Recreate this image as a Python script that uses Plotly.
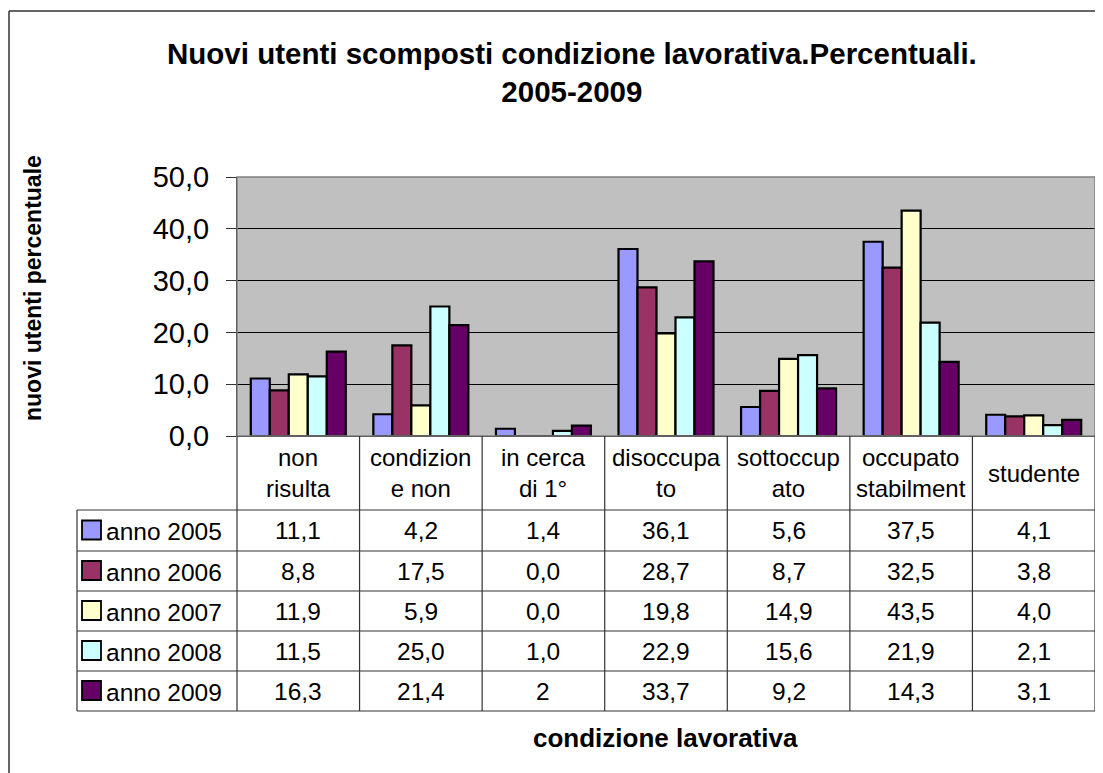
"""
Nuovi utenti scomposti per condizione lavorativa (2005-2009).

Excel-style clustered column chart with a data table underneath.
"""

import plotly.graph_objects as go

# ---------------------------------------------------------------------------
# Data
# ---------------------------------------------------------------------------
categories = [
    "non<br>risulta", "condizion<br>e non", "in cerca<br>di 1°", "disoccupa<br>to",
    "sottoccup<br>ato", "occupato<br>stabilment", "studente",
]
years = ["anno 2005", "anno 2006", "anno 2007", "anno 2008", "anno 2009"]

anno_2005 = [11.1, 4.2, 1.4, 36.1, 5.6, 37.5, 4.1]
anno_2006 = [8.8, 17.5, 0.0, 28.7, 8.7, 32.5, 3.8]
anno_2007 = [11.9, 5.9, 0.0, 19.8, 14.9, 43.5, 4.0]
anno_2008 = [11.5, 25.0, 1.0, 22.9, 15.6, 21.9, 2.1]
anno_2009 = [16.3, 21.4, 2, 33.7, 9.2, 14.3, 3.1]

y_ticks = [0, 10, 20, 30, 40, 50]

colors = ["#9999FF", "#993366", "#FFFFCC", "#CCFFFF", "#660066"]
series = [anno_2005, anno_2006, anno_2007, anno_2008, anno_2009]

# ---------------------------------------------------------------------------
# Geometry (page pixels; the page body adds an 8px offset)
# ---------------------------------------------------------------------------
OFF = 8
W, H = 1103 - OFF, 773 - OFF
PLOT_L, PLOT_R = 237, 1095
PLOT_T, PLOT_B = 177, 436
TABLE_L = 77
ROW_LINES = [510, 551, 591, 631, 671, 711]
FONT = "Liberation Sans, Arial, sans-serif"


def px(x):
    return (x - PLOT_L) / (PLOT_R - PLOT_L)


def py(y):
    return (PLOT_B - y) / (PLOT_B - PLOT_T)


def fmt(v):
    if isinstance(v, int):
        return str(v)
    return f"{v:.1f}".replace(".", ",")


fig = go.Figure()
for name, vals, col in zip(years, series, colors):
    fig.add_trace(go.Bar(
        x=list(range(len(categories))), y=vals, name=name,
        marker=dict(color=col, line=dict(color="black", width=2.2)),
        showlegend=False,
    ))

shapes = []
annotations = []

line = dict(color="#333333", width=1.2)
# plot area frame
shapes.append(dict(type="rect", xref="paper", yref="paper", x0=0, x1=1, y0=0, y1=1,
                   line=dict(color="#808080", width=1.5), layer="above"))
# outer chart border
shapes.append(dict(type="line", xref="paper", yref="paper", x0=px(9), x1=px(1110),
                   y0=py(11), y1=py(11), line=dict(color="#333333", width=1.5)))
shapes.append(dict(type="line", xref="paper", yref="paper", x0=px(9), x1=px(9),
                   y0=py(11), y1=py(790), line=dict(color="#333333", width=1.5)))

# table: horizontal lines
for yl in ROW_LINES:
    shapes.append(dict(type="line", xref="paper", yref="paper", x0=px(TABLE_L), x1=1,
                       y0=py(yl), y1=py(yl), line=line))
# table: vertical lines
col_w = (PLOT_R - PLOT_L) / len(categories)
for i in range(len(categories) + 1):
    xl = PLOT_L + i * col_w
    shapes.append(dict(type="line", xref="paper", yref="paper", x0=px(xl), x1=px(xl),
                       y0=0, y1=py(ROW_LINES[-1]), line=line))
shapes.append(dict(type="line", xref="paper", yref="paper", x0=px(TABLE_L), x1=px(TABLE_L),
                   y0=py(ROW_LINES[0]), y1=py(ROW_LINES[-1]), line=line))

# category labels
for i, cat in enumerate(categories):
    annotations.append(dict(xref="x", yref="paper", x=i, y=py((PLOT_B + ROW_LINES[0]) / 2),
                            text=cat, showarrow=False, font=dict(size=24, color="black", family=FONT),
                            xanchor="center", yanchor="middle"))

# legend keys + table values
for r, (name, vals, col) in enumerate(zip(years, series, colors)):
    yc = (ROW_LINES[r] + ROW_LINES[r + 1]) / 2
    shapes.append(dict(type="rect", xref="paper", yref="paper", x0=px(82), x1=px(101),
                       y0=py(yc + 9), y1=py(yc - 10), fillcolor=col,
                       line=dict(color="black", width=1.8)))
    annotations.append(dict(xref="paper", yref="paper", x=px(104), y=py(yc + 1), text=name,
                            showarrow=False, xanchor="left", yanchor="middle",
                            font=dict(size=24.5, color="black", family=FONT)))
    for i, v in enumerate(vals):
        annotations.append(dict(xref="x", yref="paper", x=i, y=py(yc), text=fmt(v),
                                showarrow=False, xanchor="center", yanchor="middle",
                                font=dict(size=24.5, color="black", family=FONT)))

# titles
annotations.append(dict(xref="paper", yref="paper", x=px(572), y=py(73),
                        text="<b>Nuovi utenti scomposti condizione lavorativa.Percentuali.<br>2005-2009</b>",
                        showarrow=False, xanchor="center", yanchor="middle",
                        font=dict(size=29.5, color="black", family=FONT)))
annotations.append(dict(xref="paper", yref="paper", x=px(33), y=py(288),
                        text="<b>nuovi utenti percentuale</b>", textangle=-90,
                        showarrow=False, xanchor="center", yanchor="middle",
                        font=dict(size=23, color="black", family=FONT)))
annotations.append(dict(xref="paper", yref="paper", x=px(665), y=py(738),
                        text="<b>condizione lavorativa</b>",
                        showarrow=False, xanchor="center", yanchor="middle",
                        font=dict(size=26, color="black", family=FONT)))

fig.update_layout(
    width=W, height=H,
    margin=dict(l=PLOT_L - OFF, r=1103 - PLOT_R, t=PLOT_T - OFF, b=773 - PLOT_B, pad=0),
    paper_bgcolor="white", plot_bgcolor="#C0C0C0",
    barmode="group", bargap=0.225, bargroupgap=0,
    separators=",.",
    font=dict(family=FONT, color="black"),
    shapes=shapes, annotations=annotations,
    showlegend=False,
)
fig.update_xaxes(range=[-0.5, len(categories) - 0.5], showticklabels=False,
                 showgrid=False, zeroline=False, ticks="", fixedrange=True)
fig.update_yaxes(range=[0, 50], tickvals=y_ticks, tickformat=".1f",
                 showgrid=True, gridcolor="black", gridwidth=1,
                 zeroline=True, zerolinecolor="black", zerolinewidth=1,
                 showline=True, linecolor="black", linewidth=1,
                 ticks="outside", ticklen=10, tickcolor="#333333",
                 ticklabelstandoff=11,
                 tickfont=dict(size=29, color="black", family=FONT))

fig.write_html("out.html")
